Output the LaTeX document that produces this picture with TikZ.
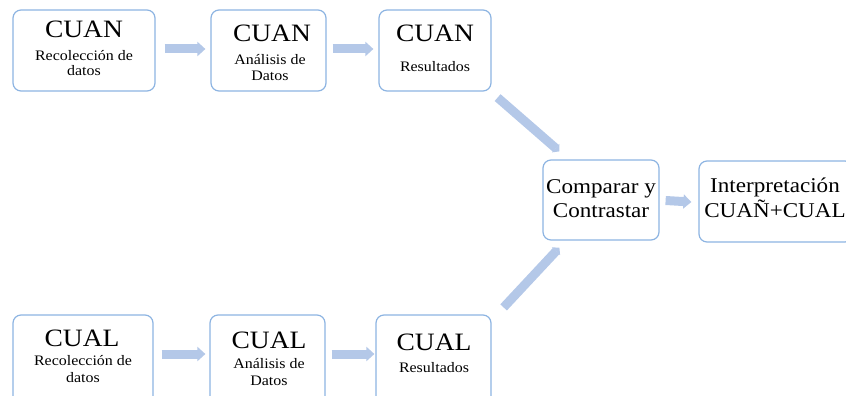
\documentclass[tikz,border=0pt]{standalone}
\usepackage{fontspec}
\setmainfont{Liberation Serif}[FakeStretch=1.1]
\usetikzlibrary{arrows.meta}
\definecolor{boxline}{RGB}{141,180,226}
\definecolor{arrowfill}{RGB}{180,200,232}
\tikzset{
  stagebox/.style={draw=boxline, line width=1.2pt, rounded corners=8pt, fill=white, inner sep=0pt},
  big/.style={anchor=base, font=\fontsize{25}{25}\selectfont, inner sep=0pt},
  small/.style={anchor=base, font=\fontsize{14.5}{16}\selectfont, inner sep=0pt},
  mid/.style={anchor=base, font=\fontsize{21}{24}\selectfont, inner sep=0pt},
  fat/.style={draw=arrowfill, line width=9pt, -{Triangle[width=14pt,length=8pt]}},
  fatd/.style={draw=arrowfill, line width=9pt, -{Triangle[width=11pt,length=5pt]}},
}
\begin{document}
\begin{tikzpicture}[x=1pt,y=-1pt]
\useasboundingbox (0,0) rectangle (846,396);
% boxes top row
\node[stagebox, minimum width=142pt, minimum height=81pt] (a1) at (84,50.5) {};
\node[stagebox, minimum width=115pt, minimum height=81pt] (a2) at (268.5,50.5) {};
\node[stagebox, minimum width=112pt, minimum height=81pt] (a3) at (435,50.5) {};
% boxes bottom row
\node[stagebox, minimum width=140pt, minimum height=90pt] (b1) at (83,360) {};
\node[stagebox, minimum width=115pt, minimum height=90pt] (b2) at (267.5,360) {};
\node[stagebox, minimum width=115pt, minimum height=90pt] (b3) at (433.5,360) {};
% right boxes
\node[stagebox, minimum width=116pt, minimum height=80pt] (c) at (601,200) {};
\node[stagebox, minimum width=154pt, minimum height=81pt] (d) at (776,201.5) {};
% texts top
\node[big] (a1t) at (84,38) {CUAN};
\node[small] (a1s1) at (84,60) {Recolección de};
\node[small] (a1s2) at (84,76) {datos};
\node[big] (a2t) at (272,42) {CUAN};
\node[small] (a2s1) at (270,65) {Análisis de};
\node[small] (a2s2) at (270,81) {Datos};
\node[big] (a3t) at (435,42) {CUAN};
\node[small] (a3s1) at (435,72) {Resultados};
% texts bottom
\node[big] (b1t) at (82,346) {CUAL};
\node[small] (b1s1) at (83,365) {Recolección de};
\node[small] (b1s2) at (83,382) {datos};
\node[big] (b2t) at (269,348) {CUAL};
\node[small] (b2s1) at (269,368) {Análisis de};
\node[small] (b2s2) at (269,385) {Datos};
\node[big] (b3t) at (434,350) {CUAL};
\node[small] (b3s1) at (434,372) {Resultados};
% right texts
\node[mid] (ct1) at (601,193) {Comparar y};
\node[mid] (ct2) at (601,217) {Contrastar};
\node[mid] (dt1) at (775,192) {Interpretación};
\node[mid] (dt2) at (775,217) {CUAÑ+CUAL};
% arrows
\draw[fat] ([xshift=9pt,yshift=1.5pt]a1.east) -- ([xshift=-5pt,yshift=1.5pt]a2.west);
\draw[fat] ([xshift=6pt,yshift=1.5pt]a2.east) -- ([xshift=-5pt,yshift=1.5pt]a3.west);
\draw[fat] ([xshift=8pt,yshift=6pt]b1.east) -- ([xshift=-4pt,yshift=6pt]b2.west);
\draw[fat] ([xshift=6pt,yshift=6pt]b2.east) -- ([xshift=-1pt,yshift=6pt]b3.west);
\draw[fat] ([xshift=6pt,yshift=-0.5pt]c.east) -- ([xshift=-7pt,yshift=-0.5pt]d.west);
\draw[fatd] ([xshift=6pt,yshift=-6pt]a3.south east) -- ([xshift=17pt,yshift=8pt]c.north west);
\draw[fatd] ([xshift=12pt,yshift=7pt]b3.north east) -- ([xshift=17pt,yshift=-7pt]c.south west);
\end{tikzpicture}
\end{document}
